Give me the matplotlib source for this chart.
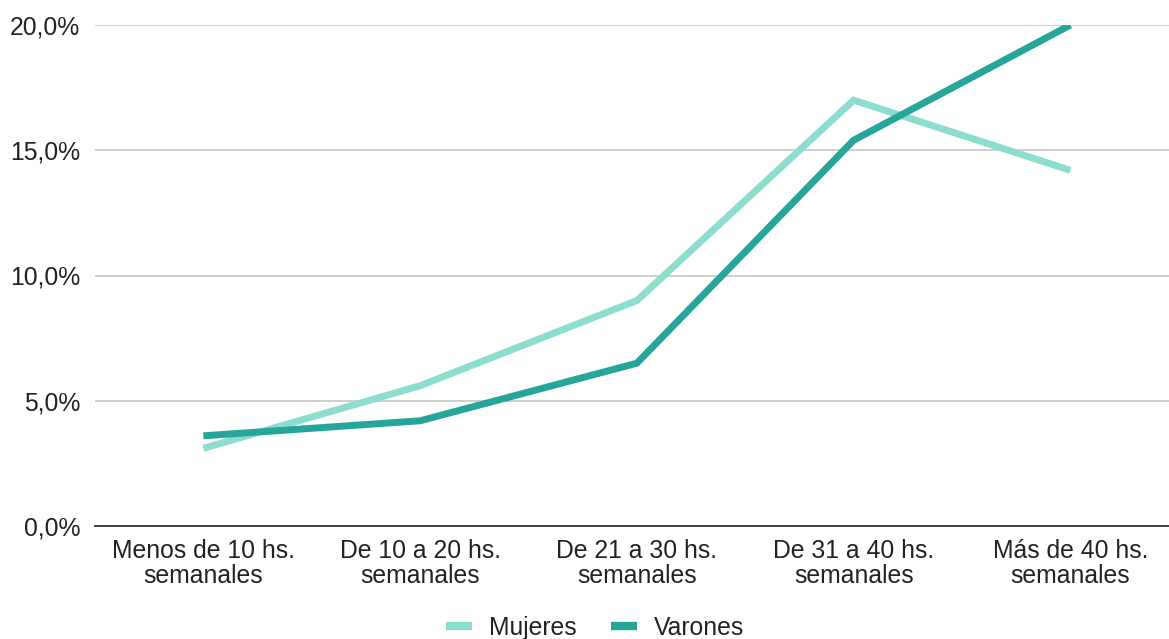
import matplotlib
matplotlib.use("Agg")
import matplotlib.pyplot as plt
from matplotlib.ticker import FuncFormatter
from matplotlib.lines import Line2D

categories = ["Menos de 10 hs.\nsemanales", "De 10 a 20 hs.\nsemanales",
              "De 21 a 30 hs.\nsemanales", "De 31 a 40 hs.\nsemanales",
              "Más de 40 hs.\nsemanales"]
mujeres = [3.1, 5.6, 9.0, 17.0, 14.2]
varones = [3.6, 4.2, 6.5, 15.4, 20.0]
yticks = [0, 5, 10, 15, 20]

plt.rcParams['font.family'] = ['Liberation Sans', 'DejaVu Sans']

W, H = 1169, 639
fig = plt.figure(figsize=(W / 100, H / 100), dpi=100)
left = 95 / W
bottom = 1 - 526 / H
top = 1 - 25 / H
width = (216.75 * 5) / W
ax = fig.add_axes([left, bottom, width, top - bottom])

c_muj = "#8DDCD0"
c_var = "#26A69A"
fs = 17.8
x = list(range(len(categories)))
ax.plot(x, mujeres, color=c_muj, lw=5.0, solid_capstyle='butt', solid_joinstyle='miter', zorder=3)
ax.plot(x, varones, color=c_var, lw=5.0, solid_capstyle='butt', solid_joinstyle='miter', zorder=4)

ax.set_xlim(-0.5, 4.5)
ax.set_ylim(0, 20)
ax.set_yticks(yticks)
ax.yaxis.set_major_formatter(FuncFormatter(lambda v, p: f"{v:.1f}".replace(".", ",") + "%"))
ax.set_xticks(x)
ax.set_xticklabels(categories, fontsize=fs, color="#222222", linespacing=1.05)
ax.tick_params(axis='y', labelsize=fs, labelcolor="#222222", length=0, pad=10.5)
ax.tick_params(axis='x', length=0, pad=9.5)
ax.grid(axis='y', color="#CCCCCC", lw=1.3, zorder=0)
ax.set_axisbelow(True)
for s in ['top', 'right', 'left']:
    ax.spines[s].set_visible(False)
ax.spines['bottom'].set_color("#333333")
ax.spines['bottom'].set_linewidth(1.3)
ax.spines['bottom'].set_zorder(2)

handles = [Line2D([0], [0], color=c_muj, lw=6, solid_capstyle='butt'),
           Line2D([0], [0], color=c_var, lw=6, solid_capstyle='butt')]
fig.legend(handles, ["Mujeres", "Varones"], loc='center', bbox_to_anchor=(595 / W, 1 - 628 / H),
           ncol=2, frameon=False, fontsize=fs, handlelength=1.05, handletextpad=0.69,
           columnspacing=1.38, labelcolor="#222222", borderaxespad=0, borderpad=0)

fig.savefig("out.png", dpi=100)
